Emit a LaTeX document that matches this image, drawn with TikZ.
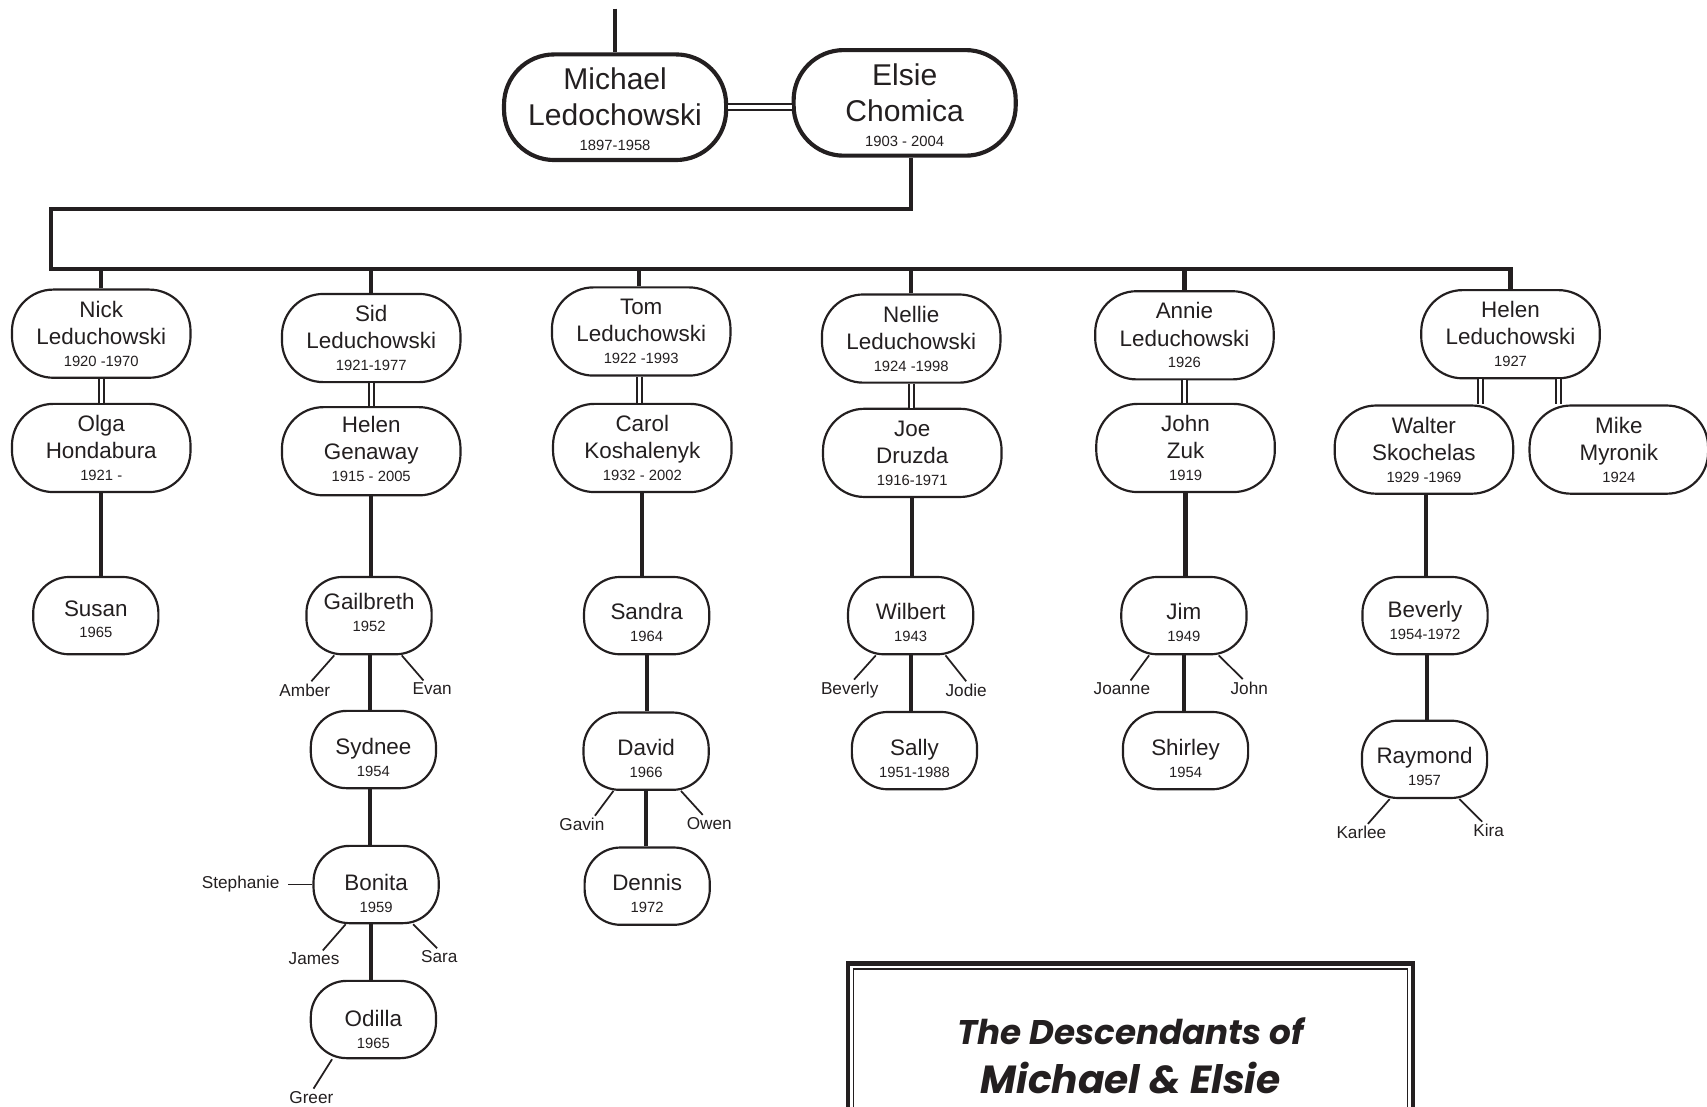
\documentclass[tikz,border=0pt]{standalone}
\usepackage{fontspec}
\setmainfont{Liberation Sans}
\newfontfamily\titlefont{Poppins}
\definecolor{treeink}{HTML}{231F20}
\newcommand\lifespan[1]{{\fontsize{6.8}{8}\selectfont #1}}

\begin{document}
\begin{tikzpicture}[x=0.5pt, y=-0.5pt,
  elder/.style={rectangle, draw=treeink, line width=1.9pt, rounded corners=23pt, minimum width=102pt, minimum height=48.5pt, inner sep=0pt, align=center, text=treeink, font=\fontsize{13.8}{16.5}\selectfont},
  member/.style={rectangle, draw=treeink, line width=1pt, rounded corners=19pt, minimum width=82pt, minimum height=40.5pt, inner sep=0pt, align=center, text=treeink, font=\fontsize{10.3}{12.5}\selectfont},
  offspring/.style={member, rounded corners=16.5pt, minimum width=57.5pt, minimum height=35.5pt},
  leaf/.style={inner sep=1pt, text=treeink, font=\fontsize{7.9}{9}\selectfont},
  descent/.style={draw=treeink, line width=1.9pt},
  marriage/.style={draw=treeink, line width=0.9pt, double=white, double distance=1.4pt},
  twig/.style={draw=treeink, line width=0.8pt}]
\useasboundingbox (0,0) rectangle (1568,1016);
\clip (0,0) rectangle (1568,1016);

% the couple
\node[elder] (michael) at (565,98.5) {\rule{0pt}{12.1pt}Michael\\Ledochowski\\[-5pt]\lifespan{1897-1958}};
\node[elder] (elsie) at (831,94.5) {\rule{0pt}{12.1pt}Elsie\\Chomica\\[-5pt]\lifespan{1903 - 2004}};
\coordinate (root) at (565,8);
\draw[descent] (root) -- (michael.north);
\draw[marriage, line width=1.1pt, double distance=1.6pt] (michael.east) -- (michael.east -| elsie.west);

% children
\node[member] (nick) at (93,306.5) {Nick\\Leduchowski\\[-2.5pt]\lifespan{1920 -1970}};
\node[member] (sid) at (341,310.5) {Sid\\Leduchowski\\[-2.5pt]\lifespan{1921-1977}};
\node[member] (tom) at (589,304.5) {Tom\\Leduchowski\\[-2.5pt]\lifespan{1922 -1993}};
\node[member] (nellie) at (837,311) {Nellie\\Leduchowski\\[-2.5pt]\lifespan{1924 -1998}};
\node[member] (annie) at (1088,308) {Annie\\Leduchowski\\[-2.5pt]\lifespan{1926}};
\node[member] (helenL) at (1387.5,307) {Helen\\Leduchowski\\[-2.5pt]\lifespan{1927}};

% spouses
\node[member] (olga) at (93,411.5) {Olga\\Hondabura\\[-2.5pt]\lifespan{1921 -}};
\node[member, text depth=2pt] (genaway) at (341,414.5) {Helen\\Genaway\\[-2.5pt]\lifespan{1915 - 2005}};
\node[member] (carol) at (590,411.5) {Carol\\Koshalenyk\\[-2.5pt]\lifespan{1932 - 2002}};
\node[member] (joe) at (838,416) {Joe\\Druzda\\[-2.5pt]\lifespan{1916-1971}};
\node[member] (zuk) at (1089,411.5) {John\\Zuk\\[-2.5pt]\lifespan{1919}};
\node[member] (walter) at (1308,413) {Walter\\Skochelas\\[-2.5pt]\lifespan{1929 -1969}};
\node[member] (mike) at (1487,413) {Mike\\Myronik\\[-2.5pt]\lifespan{1924}};

% family bus
\coordinate (bend) at (47,192);
\coordinate (bus) at (47,247);
\draw[descent] ([xshift=3pt]elsie.south) |- (bend) -- (bus) -| (helenL.north);
\draw[descent] (nick.north) -- (nick.north |- bus);
\draw[descent] (sid.north) -- (sid.north |- bus);
\draw[descent] ([xshift=-1pt]tom.north) -- ([xshift=-1pt]tom.north |- bus);
\draw[descent] (nellie.north) -- (nellie.north |- bus);
\draw[descent] (annie.north) -- (annie.north |- bus);

% marriages
\draw[marriage] (nick.south) -- (nick.south |- olga.north);
\draw[marriage] (sid.south) -- (sid.south |- genaway.north);
\draw[marriage] ([xshift=-1pt]tom.south) -- ([xshift=-1pt]tom.south |- carol.north);
\draw[marriage] (nellie.south) -- (nellie.south |- joe.north);
\draw[marriage] (annie.south) -- (annie.south |- zuk.north);
\draw[marriage] ([xshift=-14pt]helenL.south) -- ([xshift=-14pt]helenL.south |- walter.north);
\draw[marriage] ([xshift=22pt]helenL.south) -- ([xshift=22pt]helenL.south |- mike.north);

% grandchildren
\node[offspring] (susan) at (88,565.5) {\rule{0pt}{10.5pt}Susan\\[-2.5pt]\lifespan{1965}};
\node[offspring, text depth=3pt] (gailbreth) at (339,565.5) {Gailbreth\\[-2.5pt]\lifespan{1952}};
\node[offspring] (sydnee) at (343,688.5) {\rule{0pt}{15pt}Sydnee\\[-2.5pt]\lifespan{1954}};
\node[offspring] (bonita) at (345.5,812.5) {\rule{0pt}{15.5pt}Bonita\\[-2.5pt]\lifespan{1959}};
\node[offspring] (odilla) at (343,936.5) {\rule{0pt}{16.5pt}Odilla\\[-2.5pt]\lifespan{1965}};
\node[offspring] (sandra) at (594,565.5) {\rule{0pt}{13.5pt}Sandra\\[-2.5pt]\lifespan{1964}};
\node[offspring] (david) at (593.5,690) {\rule{0pt}{14pt}David\\[-2.5pt]\lifespan{1966}};
\node[offspring] (dennis) at (594.5,814) {\rule{0pt}{14pt}Dennis\\[-2.5pt]\lifespan{1972}};
\node[offspring] (wilbert) at (836.5,565.5) {\rule{0pt}{13.5pt}Wilbert\\[-2.5pt]\lifespan{1943}};
\node[offspring] (sally) at (840,689.5) {\rule{0pt}{14.5pt}Sally\\[-2.5pt]\lifespan{1951-1988}};
\node[offspring] (jim) at (1087.5,565.5) {\rule{0pt}{13.5pt}Jim\\[-2.5pt]\lifespan{1949}};
\node[offspring] (shirley) at (1089,689.5) {\rule{0pt}{14.5pt}Shirley\\[-2.5pt]\lifespan{1954}};
\node[offspring] (beverly) at (1309,565.5) {\rule{0pt}{12pt}Beverly\\[-2.5pt]\lifespan{1954-1972}};
\node[offspring] (raymond) at (1308.5,697.5) {\rule{0pt}{14pt}Raymond\\[-2.5pt]\lifespan{1957}};

% lines of descent
\draw[descent] (olga.south) -- (olga.south |- susan.north);
\draw[descent] (genaway.south) -- (genaway.south |- gailbreth.north);
\draw[descent] ([xshift=0.5pt]gailbreth.south) -- ([xshift=0.5pt]gailbreth.south |- sydnee.north);
\draw[descent] ([xshift=-1.5pt]sydnee.south) -- ([xshift=-1.5pt]sydnee.south |- bonita.north);
\draw[descent] ([xshift=-2.5pt]bonita.south) -- ([xshift=-2.5pt]bonita.south |- odilla.north);
\draw[descent] (carol.south) -- (carol.south |- sandra.north);
\draw[descent] (sandra.south) -- (sandra.south |- david.north);
\draw[descent] (david.south) -- (david.south |- dennis.north);
\draw[descent] (joe.south) -- (joe.south |- wilbert.north);
\draw[descent] (wilbert.south) -- (wilbert.south |- sally.north);
\draw[descent] (zuk.south) -- (zuk.south |- jim.north);
\draw[descent] (jim.south) -- (jim.south |- shirley.north);
\draw[descent] ([xshift=1pt]walter.south) -- ([xshift=1pt]walter.south |- beverly.north);
\draw[descent] ([xshift=1pt]beverly.south) -- ([xshift=1pt]beverly.south |- raymond.north);

% great-grandchildren, named only
\node[leaf] (amber) at ([shift={(-29.5pt,-16pt)}]gailbreth.south) {Amber};
\node[leaf] (evan) at ([shift={(29pt,-15.5pt)}]gailbreth.south) {Evan};
\node[leaf, anchor=east] (stephanie) at ([xshift=-14pt]bonita.west) {Stephanie};
\node[leaf] (james) at ([shift={(-28.5pt,-16pt)}]bonita.south) {James};
\node[leaf] (sara) at ([shift={(29pt,-15pt)}]bonita.south) {Sara};
\node[leaf] (greer) at ([shift={(-28.5pt,-17.5pt)}]odilla.south) {Greer};
\node[leaf] (gavin) at ([shift={(-29.5pt,-15.5pt)}]david.south) {Gavin};
\node[leaf] (owen) at ([shift={(29pt,-15pt)}]david.south) {Owen};
\node[leaf] (beverlyW) at ([shift={(-28pt,-16pt)}]wilbert.south) {Beverly};
\node[leaf] (jodie) at ([shift={(25.5pt,-16pt)}]wilbert.south) {Jodie};
\node[leaf] (joanne) at ([shift={(-28.5pt,-15.5pt)}]jim.south) {Joanne};
\node[leaf] (johnJ) at ([shift={(30pt,-15pt)}]jim.south) {John};
\node[leaf] (karlee) at ([shift={(-29pt,-15.5pt)}]raymond.south) {Karlee};
\node[leaf] (kira) at ([shift={(29.5pt,-14.5pt)}]raymond.south) {Kira};

\draw[twig] ([xshift=-16pt]gailbreth.south) -- ([xshift=3pt]amber.north);
\draw[twig] ([xshift=15pt]gailbreth.south) -- ([xshift=-4pt]evan.north);
\draw[twig] (bonita.west) -- ([xshift=3pt]stephanie.east);
\draw[twig] ([xshift=-14pt]bonita.south) -- ([xshift=4pt]james.north);
\draw[twig] ([xshift=17pt]bonita.south) -- ([xshift=-1pt]sara.north);
\draw[twig] ([xshift=-19pt]odilla.south) -- ([xshift=1pt]greer.north);
\draw[twig] ([xshift=-15pt]david.south) -- ([xshift=6pt]gavin.north);
\draw[twig] ([xshift=16pt]david.south) -- ([xshift=-3pt]owen.north);
\draw[twig] ([xshift=-16pt]wilbert.south) -- ([xshift=2pt]beverlyW.north);
\draw[twig] ([xshift=16pt]wilbert.south) -- ([xshift=0pt]jodie.north);
\draw[twig] ([xshift=-16pt]jim.south) -- ([xshift=4pt]joanne.north);
\draw[twig] ([xshift=16pt]jim.south) -- ([xshift=-3pt]johnJ.north);
\draw[twig] ([xshift=-16pt]raymond.south) -- ([xshift=3pt]karlee.north);
\draw[twig] ([xshift=16pt]raymond.south) -- ([xshift=-3pt]kira.north);

% title plate
\node[draw=treeink, line width=2pt, minimum width=259.5pt, minimum height=85pt, align=center, text=treeink, font=\titlefont\bfseries\itshape\fontsize{18}{22.5}\selectfont] (title) at (1038.5,970) {{\fontsize{15.7}{19}\selectfont The Descendants of}\\Michael \& Elsie};
\draw[treeink, line width=0.7pt] ([shift={(3.5pt,-3.5pt)}]title.north west) rectangle ([shift={(-3.5pt,3.5pt)}]title.south east);
\end{tikzpicture}
\end{document}
